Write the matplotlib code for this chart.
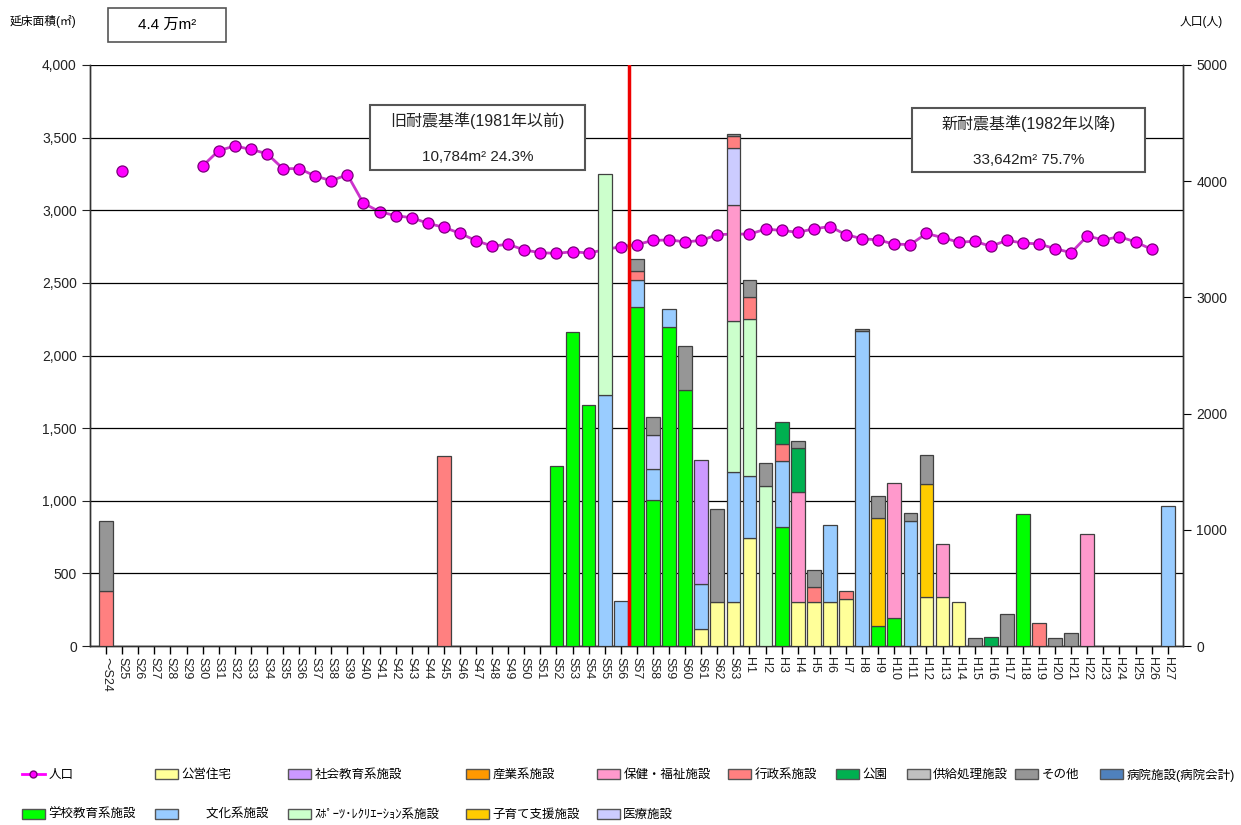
import numpy as np
import matplotlib.pyplot as plt
from matplotlib.patches import Patch, Rectangle
from matplotlib.lines import Line2D
from matplotlib.ticker import FuncFormatter, MultipleLocator

plt.rcParams['font.family'] = ['Liberation Sans', 'Noto Sans CJK JP', 'DejaVu Sans']

# categories: construction year
years = ['～S24'] + [f'S{i}' for i in range(25, 64)] + [f'H{i}' for i in range(1, 28)]

# floor area (m2) per facility type, keyed by year
koei = {'S61': 120, 'S62': 300, 'S63': 300, 'H1': 745, 'H4': 305, 'H5': 305,
        'H6': 305, 'H7': 322, 'H12': 335, 'H13': 335, 'H14': 302}
gakko = {'S52': 1240, 'S53': 2160, 'S54': 1658, 'S57': 2335, 'S58': 1007,
         'S59': 2198, 'S60': 1765, 'H3': 820, 'H9': 135, 'H10': 193, 'H18': 912}
bunka = {'S55': 1728, 'S56': 308, 'S57': 185, 'S58': 210, 'S59': 123,
         'S61': 305, 'S63': 897, 'H1': 422, 'H3': 453, 'H6': 530, 'H8': 2171,
         'H11': 858, 'H27': 962}
sports = {'S55': 1522, 'S63': 1038, 'H1': 1083, 'H2': 1104}
shakai = {'S61': 853}
sangyo = {}
kosodate = {'H9': 747, 'H12': 782}
hoken = {'S63': 801, 'H4': 752, 'H10': 932, 'H13': 370, 'H22': 770}
iryo = {'S58': 238, 'S63': 395}
gyosei = {'～S24': 380, 'S45': 1308, 'S57': 60, 'S63': 83, 'H1': 150,
          'H3': 115, 'H5': 102, 'H7': 55, 'H19': 157}
koen = {'H3': 152, 'H4': 303, 'H16': 63}
kyokyu = {}
sonota = {'～S24': 482, 'S57': 87, 'S58': 125, 'S60': 298, 'S62': 640,
          'S63': 12, 'H1': 118, 'H2': 158, 'H4': 52, 'H5': 116, 'H8': 10,
          'H9': 150, 'H11': 58, 'H12': 195, 'H15': 52, 'H17': 222,
          'H20': 52, 'H21': 92}
byoin = {}

# population (right axis), None = no data
population = [None, 4088, None, None, None, None, 4131, 4263, 4303, 4274,
              4237, 4108, 4108, 4045, 4004, 4056, 3810, 3738, 3703, 3686,
              3638, 3603, 3552, 3488, 3442, 3457, 3408, 3385, 3379, 3393,
              3382, 3410, 3437, 3455, 3490, 3495, 3478, 3490, 3540, 3545,
              3545, 3587, 3577, 3560, 3590, 3610, 3540, 3505, 3495, 3458,
              3455, 3550, 3515, 3475, 3483, 3440, 3491, 3468, 3460, 3419,
              3385, 3529, 3494, 3523, 3477, 3414, None]

# stacking order bottom -> top
series = [
    ('公営住宅', koei, '#FFFF99'),
    ('学校教育系施設', gakko, '#00FF00'),
    ('文化系施設', bunka, '#99CCFF'),
    ('ｽﾎﾟｰﾂ･ﾚｸﾘｴｰｼｮﾝ系施設', sports, '#CCFFCC'),
    ('社会教育系施設', shakai, '#CC99FF'),
    ('産業系施設', sangyo, '#FF9900'),
    ('子育て支援施設', kosodate, '#FFCC00'),
    ('保健・福祉施設', hoken, '#FF99CC'),
    ('医療施設', iryo, '#CCCCFF'),
    ('行政系施設', gyosei, '#FF8080'),
    ('公園', koen, '#00B050'),
    ('供給処理施設', kyokyu, '#C0C0C0'),
    ('その他', sonota, '#969696'),
    ('病院施設(病院会計)', byoin, '#4F81BD'),
]
colors = {name: c for name, d, c in series}

W, H = 1241, 825
fig = plt.figure(figsize=(W / 100, H / 100), dpi=100)
ax = fig.add_axes([90 / W, 1 - 646 / H, 1093 / W, 581 / H])
ax2 = ax.twinx()
ax.set_zorder(ax2.get_zorder() + 1)
ax.patch.set_visible(False)

x = np.arange(len(years))
bottom = np.zeros(len(years))
for name, d, c in series:
    vals = np.array([d.get(y, 0) for y in years], dtype=float)
    m = vals > 0
    if not m.any():
        continue
    ax.bar(x[m], vals[m], 0.85, bottom=bottom[m], color=c, edgecolor='#404040',
           linewidth=0.9, zorder=3)
    bottom += vals

pop = np.array([np.nan if v is None else v for v in population], dtype=float)
ax2.plot(x, pop, color='#CC33CC', lw=2, marker='o', markersize=8,
         markerfacecolor='#FF00FF', markeredgecolor='#7A007A', markeredgewidth=0.9)

ax.axvline(32.5, color='#EE0000', lw=2.5, zorder=4)

ax.set_xlim(-1, len(years) - 0.05)
ax.set_ylim(0, 4000)
ax2.set_ylim(0, 5000)
ax.yaxis.set_major_locator(MultipleLocator(500))
ax.yaxis.set_major_formatter(FuncFormatter(lambda v, p: f'{v:,.0f}'))
ax2.yaxis.set_major_locator(MultipleLocator(1000))
ax.yaxis.grid(True, color='black', lw=0.9)
ax.set_axisbelow(True)

ax.set_xticks(x)
ax.set_xticklabels(years, rotation=-90, fontsize=9, color='#222222')
ax.tick_params(axis='x', length=6, width=1, pad=2)
ax.tick_params(axis='y', labelsize=10, length=6, colors='#222222', labelcolor='#222222')
ax2.tick_params(axis='y', labelsize=10, length=6, labelcolor='#222222')
for a in (ax, ax2):
    a.spines['top'].set_visible(False)
    for s in ('left', 'right', 'bottom'):
        a.spines[s].set_color('#333333')
        a.spines[s].set_linewidth(1)

def fx(px):
    return px / W

def fy(py):
    return 1 - py / H

# header texts
fig.text(fx(10), fy(22), '延床面積(㎡)', fontsize=8.5, va='center', ha='left')
fig.add_artist(Rectangle((fx(108), fy(42)), fx(226) - fx(108), fy(8) - fy(42),
                         transform=fig.transFigure, fill=False, ec='#555555', lw=1.2))
fig.text(fx(167), fy(25), '4.4 万m²', fontsize=11, va='center', ha='center')
fig.text(fx(1180), fy(22), '人口(人)', fontsize=8.5, va='center', ha='left')

# annotation boxes
for (x0, x1, y0, y1, t1, t2) in [
        (370, 585, 105, 170, '旧耐震基準(1981年以前)', '10,784m² 24.3%'),
        (912, 1145, 108, 172, '新耐震基準(1982年以降)', '33,642m² 75.7%')]:
    fig.add_artist(Rectangle((fx(x0), fy(y1)), fx(x1) - fx(x0), fy(y0) - fy(y1),
                             transform=fig.transFigure, fc='white', ec='#555555',
                             lw=1.5, zorder=5))
    cx = (x0 + x1) / 2
    fig.text(fx(cx), fy(y0 + 16), t1, fontsize=11.5, ha='center', va='center',
             color='#222222', zorder=6)
    fig.text(fx(cx), fy(y0 + 52), t2, fontsize=11, ha='center', va='center',
             color='#222222', zorder=6)

# legend, placed entry by entry
pop_handle = Line2D([], [], color='#FF00FF', lw=2, marker='o', markersize=5,
                    markerfacecolor='#FF00FF', markeredgecolor='#7A007A')
legend_rows = [
    (775, [(22, '人口'), (155, '公営住宅'), (288, '社会教育系施設'), (466, '産業系施設'),
           (597, '保健・福祉施設'), (728, '行政系施設'), (836, '公園'),
           (907, '供給処理施設'), (1015, 'その他'), (1100, '病院施設(病院会計)')]),
    (815, [(22, '学校教育系施設'), (155, '文化系施設'), (288, 'ｽﾎﾟｰﾂ･ﾚｸﾘｴｰｼｮﾝ系施設'),
           (466, '子育て支援施設'), (597, '医療施設')]),
]
for py, entries in legend_rows:
    for px, name in entries:
        if name == '人口':
            h = pop_handle
        else:
            h = Patch(facecolor=colors[name], edgecolor='#555555', lw=1)
        label = '\u3000\u3000' + name if name == '文化系施設' else name
        fig.legend([h], [label], loc='center left', bbox_to_anchor=(fx(px), fy(py)),
                   frameon=False, fontsize=9, borderpad=0, borderaxespad=0,
                   handlelength=1.8, handleheight=0.8, handletextpad=0.3)

fig.savefig('out.png', dpi=100)
